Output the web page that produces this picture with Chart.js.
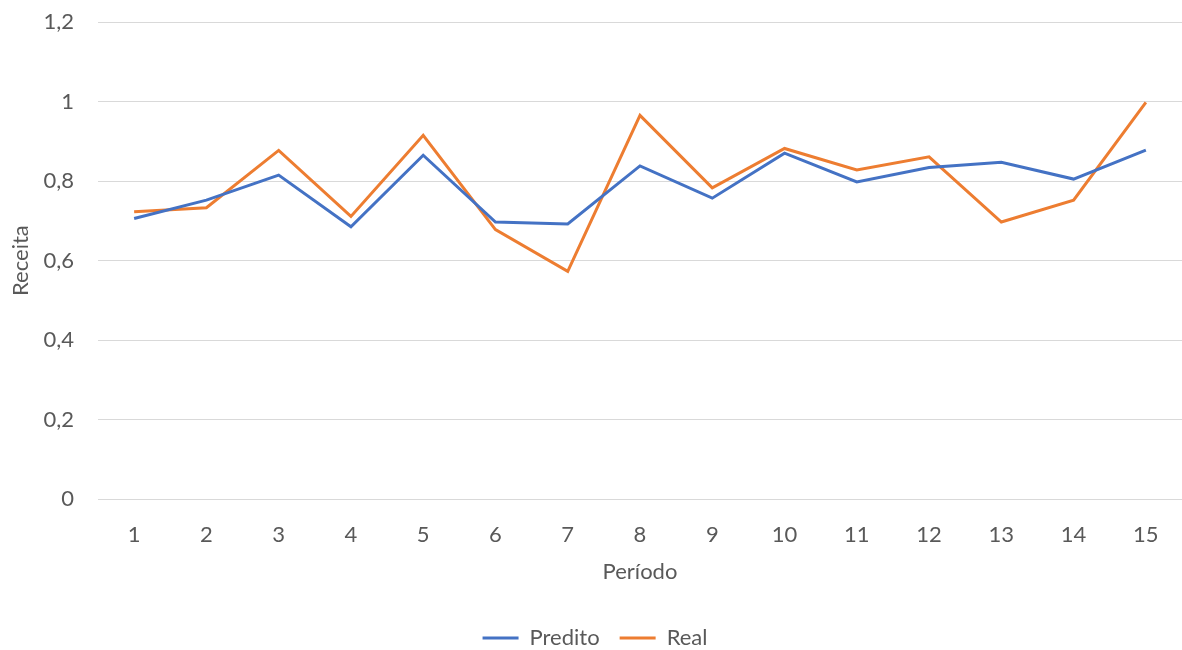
<!DOCTYPE html>
<html>
<head>
<meta charset="utf-8">
<script src="https://cdn.jsdelivr.net/npm/chart.js@4.4.0/dist/chart.umd.min.js"></script>
<style>
  html, body { margin: 0; padding: 0; background: #fff; }
  #wrap { width: 1182px; height: 650px; }
</style>
</head>
<body>
<div id="wrap"><canvas id="grafica"></canvas></div>
<script>
// dados
var periodos = ['1','2','3','4','5','6','7','8','9','10','11','12','13','14','15'];
var predito = [0.706, 0.752, 0.815, 0.685, 0.865, 0.697, 0.692, 0.838, 0.757, 0.870, 0.798, 0.834, 0.847, 0.805, 0.878];
var real = [0.723, 0.733, 0.877, 0.711, 0.915, 0.678, 0.573, 0.965, 0.783, 0.882, 0.828, 0.861, 0.697, 0.752, 0.998];
var yTicks = [0, 0.2, 0.4, 0.6, 0.8, 1, 1.2];

var cinza = '#595959';
Chart.defaults.font.family = "Lato, 'Open Sans', sans-serif";
Chart.defaults.color = cinza;

// baixa um pouco a legenda, sem mexer na área do gráfico
var desceLegenda = {
    id: 'desceLegenda',
    afterLayout: function(chart) {
        chart.legend.top += 9;
        chart.legend.bottom += 9;
    }
};

var ctx = document.getElementById('grafica').getContext('2d');
var grafica = new Chart(ctx, {
    type: 'line',
    data: {
        labels: periodos,
        datasets: [
            { label: 'Predito', data: predito, borderColor: '#4472C4', backgroundColor: '#4472C4', borderWidth: 3, pointRadius: 0, fill: false, tension: 0 },
            { label: 'Real', data: real, borderColor: '#ED7D31', backgroundColor: '#ED7D31', borderWidth: 3, pointRadius: 0, fill: false, tension: 0 }
        ]
    },
    options: {
        responsive: true,
        maintainAspectRatio: false,
        animation: false,
        layout: { padding: { top: 0, right: 0, bottom: 0, left: 8 } },
        scales: {
            x: {
                offset: true,
                grid: { display: false },
                border: { color: '#d9d9d9', width: 1 },
                ticks: { font: { size: 22 }, padding: 15, maxRotation: 0 },
                title: { display: true, text: 'Período', font: { size: 22 }, padding: { top: -5, bottom: 13 } }
            },
            y: {
                min: 0,
                max: 1.2,
                afterBuildTicks: function(axis) { axis.ticks = yTicks.map(function(v) { return { value: v }; }); },
                afterFit: function(axis) {
                    axis.width = 90;
                    axis.paddingTop = 22;
                    axis.paddingBottom = 10;
                },
                grid: { color: '#d9d9d9', drawTicks: false },
                border: { display: false },
                ticks: {
                    font: { size: 22 },
                    padding: 24,
                    callback: function(value) { return value.toLocaleString('pt-BR', { maximumFractionDigits: 1 }); }
                },
                title: { display: true, text: 'Receita', font: { size: 22 }, padding: { top: 0, bottom: 0 } }
            }
        },
        plugins: {
            legend: {
                position: 'bottom',
                labels: { usePointStyle: true, pointStyle: 'line', pointStyleWidth: 36, font: { size: 22 }, padding: 20 }
            },
            tooltip: { enabled: false }
        }
    },
    plugins: [desceLegenda]
});
</script>
</body>
</html>
